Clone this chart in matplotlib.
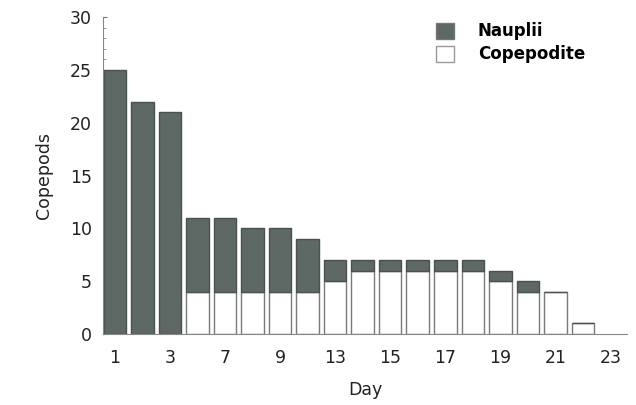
import matplotlib
matplotlib.use("Agg")
import matplotlib.pyplot as plt
from matplotlib.patches import Patch
from matplotlib.ticker import MultipleLocator

days = [1, 3, 7, 9, 13, 15, 17, 19, 21, 23]
copepodite = [0, 0, 0, 4, 4, 4, 4, 4, 5, 6, 6, 6, 6, 6, 5, 4, 4, 1]
nauplii = [25, 22, 21, 7, 7, 6, 6, 5, 2, 1, 1, 1, 1, 1, 1, 1, 0, 0]

plt.rcParams['font.family'] = ['DejaVu Sans']

fig = plt.figure(figsize=(6.36, 4.05), dpi=100)
W, H = 636, 405
ax = fig.add_axes([103 / W, (H - 334) / H, (627 - 103) / W, (334 - 17) / H])

dark = '#5e6864'
x = list(range(len(copepodite)))
ax.bar(x, copepodite, width=0.82, color='white', edgecolor='#7a7a7a', linewidth=1.0, zorder=2)
ax.bar(x, nauplii, width=0.82, bottom=copepodite, color=dark, edgecolor='#4a524f',
       linewidth=1.0, zorder=2)

ax.set_xlim(-0.43, 18.6)
ax.set_ylim(0, 30)
ax.set_xticks(list(range(0, 2 * len(days), 2)))
ax.set_xticklabels([str(d) for d in days])
ax.set_yticks(range(0, 31, 5))
ax.yaxis.set_minor_locator(MultipleLocator(1))
ax.tick_params(axis='x', length=0, pad=11, labelsize=12.5, colors='#222222')
ax.tick_params(axis='y', which='major', length=3, direction='in', pad=8, labelsize=12.5,
               colors='#222222', color='#777777')
ax.tick_params(axis='y', which='minor', length=2, direction='in', color='#888888')

for s in ['top', 'right']:
    ax.spines[s].set_visible(False)
for s in ['left', 'bottom']:
    ax.spines[s].set_color('#888888')
    ax.spines[s].set_linewidth(0.8)

ax.set_xlabel('Day', fontsize=12.5, labelpad=10, color='#222222')
ax.set_ylabel('Copepods', fontsize=12.5, labelpad=12, color='#222222')

handles = [Patch(facecolor=dark, edgecolor='#777777', label='Nauplii'),
           Patch(facecolor='white', edgecolor='#999999', label='Copepodite')]
leg = ax.legend(handles=handles, loc='upper left', bbox_to_anchor=(0.607, 1.03),
                frameon=False, handlelength=1.05, handleheight=1.05, handletextpad=1.45,
                labelspacing=0.3, prop={'size': 12, 'weight': 'bold'})

fig.savefig('out.png', dpi=100)
